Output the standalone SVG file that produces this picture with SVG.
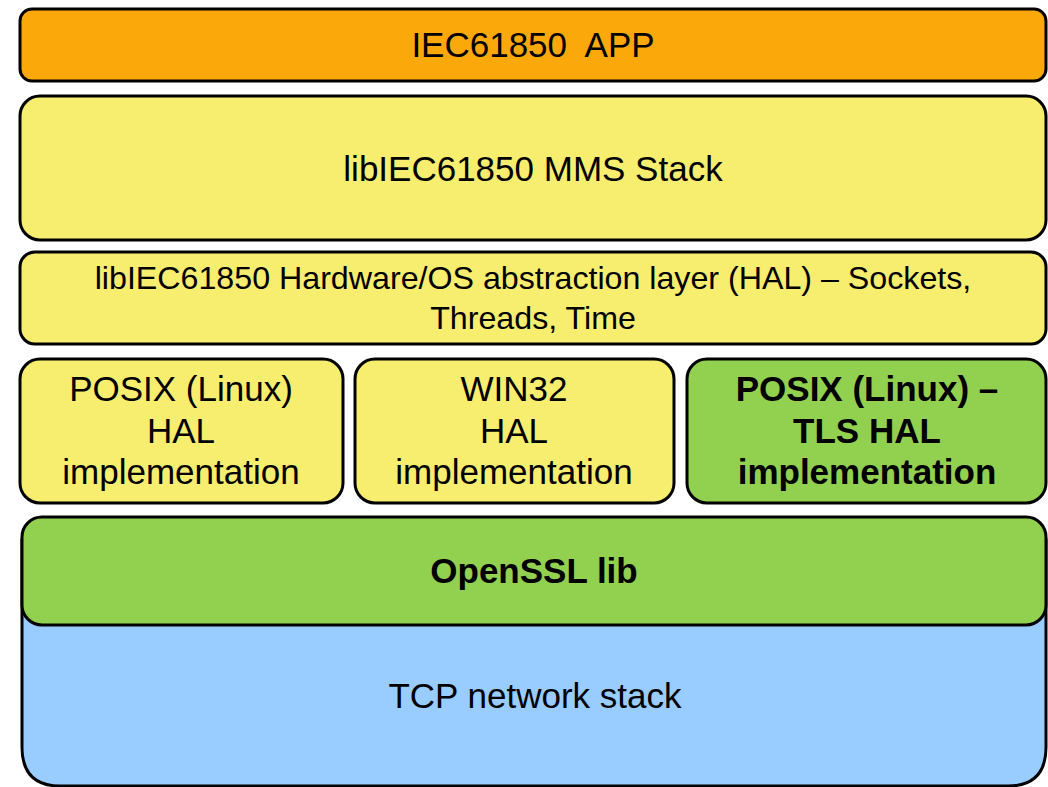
<svg xmlns="http://www.w3.org/2000/svg" width="1048" height="787" viewBox="0 0 1048 787">
<style>
.b{stroke:#000;stroke-width:3}
.t{font-family:"Liberation Sans",Arial,sans-serif;fill:#000;text-anchor:middle;font-size:35px}
.s{font-size:32.2px}
.bold{font-weight:bold}
</style>
<rect width="1048" height="787" fill="#fff"/>
<g id="app"><rect class="b" x="20" y="9" width="1026" height="72" rx="12" fill="#FAA80A"/><text class="t" x="533" y="57" xml:space="preserve">IEC61850  APP</text></g>
<g id="mms"><rect class="b" x="20" y="96" width="1026" height="144" rx="20" fill="#F7ED6E"/><text class="t" x="533" y="181">libIEC61850 MMS Stack</text></g>
<g id="hal"><rect class="b" x="20" y="252" width="1026" height="92" rx="15" fill="#F7ED6E"/><text class="t s" x="533" y="289">libIEC61850 Hardware/OS abstraction layer (HAL) – Sockets,</text><text class="t s" x="533" y="329">Threads, Time</text></g>
<g id="posix"><rect class="b" x="20" y="359" width="323" height="144" rx="20" fill="#F7ED6E"/><text class="t" x="181" y="401">POSIX (Linux)</text><text class="t" x="181" y="443">HAL</text><text class="t" x="181" y="484">implementation</text></g>
<g id="win32"><rect class="b" x="355" y="359" width="319" height="144" rx="20" fill="#F7ED6E"/><text class="t" x="514" y="401">WIN32</text><text class="t" x="514" y="443">HAL</text><text class="t" x="514" y="484">implementation</text></g>
<g id="tls"><rect class="b" x="687" y="359" width="359" height="144" rx="20" fill="#92D050"/><text class="t bold" x="867" y="401">POSIX (Linux) –</text><text class="t bold" x="867" y="443">TLS HAL</text><text class="t bold" x="867" y="484">implementation</text></g>
<g id="tcp"><path class="b" d="M22 540 V747 Q22 786 60 786 H1008 Q1046 786 1046 747 V540 Z" fill="#99CCFF"/><text class="t" x="535" y="708">TCP network stack</text></g>
<g id="openssl"><rect class="b" x="22" y="517" width="1024" height="108" rx="20" fill="#92D050"/><text class="t bold" x="534" y="583">OpenSSL lib</text></g>
<g id="connectors"></g>
</svg>
